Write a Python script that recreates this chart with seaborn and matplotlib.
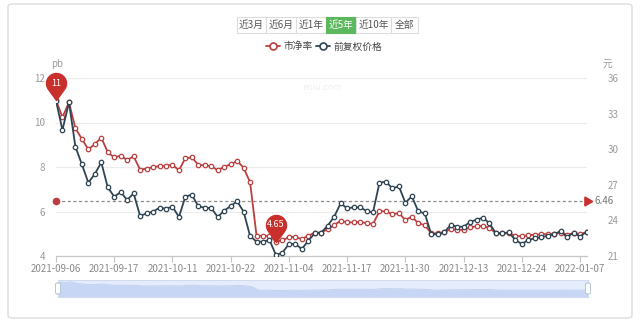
import numpy as np
import pandas as pd
import matplotlib
matplotlib.use('Agg')
import matplotlib.pyplot as plt
import seaborn as sns
from matplotlib.path import Path
from matplotlib.patches import FancyBboxPatch, Rectangle
from matplotlib.lines import Line2D

# ---------------- data ----------------
holidays = ['2021-09-20', '2021-09-21', '2021-10-01', '2021-10-04', '2021-10-05',
            '2021-10-06', '2021-10-07', '2022-01-03']
dates = [d.strftime('%Y-%m-%d') for d in pd.bdate_range('2021-09-06', '2022-01-10')
         if d.strftime('%Y-%m-%d') not in holidays]

pb = [11.00, 10.23, 10.91, 9.74, 9.26, 8.79, 9.03, 9.32, 8.66, 8.43,
      8.51, 8.31, 8.48, 7.88, 7.93, 7.99, 8.04, 8.06, 8.10, 7.85,
      8.40, 8.43, 8.10, 8.07, 8.04, 7.85, 8.01, 8.12, 8.27, 7.97,
      7.31, 4.91, 4.91, 4.91, 4.65, 4.70, 4.85, 4.85, 4.76, 4.91,
      5.05, 5.05, 5.21, 5.38, 5.59, 5.51, 5.51, 5.53, 5.48, 5.44,
      6.01, 6.01, 5.87, 5.93, 5.62, 5.77, 5.47, 5.39, 5.02, 5.02,
      5.06, 5.21, 5.18, 5.17, 5.29, 5.33, 5.35, 5.26, 5.02, 5.02,
      5.02, 4.91, 4.88, 4.93, 4.96, 4.97, 4.99, 5.00, 5.05, 4.96,
      5.02, 4.99, 5.06]

price = [34.09, 31.61, 33.95, 30.21, 28.72, 27.18, 27.91, 28.89, 26.79, 26.00,
         26.39, 25.72, 26.28, 24.37, 24.59, 24.73, 25.07, 24.99, 25.16, 24.29,
         26.00, 26.17, 25.18, 25.07, 25.04, 24.29, 24.82, 25.21, 25.61, 24.73,
         22.68, 22.21, 22.21, 22.35, 21.08, 21.28, 22.01, 22.01, 21.59, 22.29,
         22.91, 22.97, 23.56, 24.31, 25.44, 25.02, 25.10, 25.10, 24.79, 24.68,
         27.18, 27.26, 26.70, 26.87, 25.49, 26.03, 24.76, 24.59, 22.83, 22.83,
         22.99, 23.61, 23.47, 23.47, 23.86, 24.06, 24.23, 23.75, 22.91, 22.91,
         22.99, 22.35, 22.01, 22.35, 22.49, 22.57, 22.71, 22.83, 23.11, 22.57,
         22.97, 22.63, 23.05]

tick_labels = ['2021-09-06', '2021-09-17', '2021-10-11', '2021-10-22', '2021-11-04',
               '2021-11-17', '2021-11-30', '2021-12-13', '2021-12-24', '2022-01-07']
pb_ticks = [4, 6, 8, 10, 12]
price_ticks = [21, 24, 27, 30, 33, 36]
avg_pb = 6.46
buttons = ['近3月', '近6月', '近1年', '近5年', '近10年', '全部']
series_names = ['市净率', '前复权价格']

n = min(len(dates), len(pb), len(price))
dates = dates[:n]
df = pd.DataFrame({'idx': np.arange(n), 'date': dates, 'pb': pb[:n], 'price': price[:n]})

RED = '#bb3f3f'
PIN = '#c9302c'
DARK = '#2f4554'
W, H = 640, 324

sns.set_theme(style='white')
plt.rcParams['font.family'] = ['Noto Sans CJK SC', 'DejaVu Sans']

fig = plt.figure(figsize=(W / 100, H / 100), dpi=100)
fig.patch.set_facecolor('white')


def fx(px):
    return px / W


def fy(py):
    return 1 - py / H


# outer frame
frame = FancyBboxPatch((fx(8), fy(318)), fx(624), 314 / H,
                       boxstyle='round,pad=0,rounding_size=0.008',
                       transform=fig.transFigure, facecolor='none',
                       edgecolor='#dcdcdc', lw=1.0, zorder=0)
fig.patches.append(frame)

# main axes
L, R, T, B = 56, 586.5, 78, 256
ax = fig.add_axes([fx(L), fy(B), fx(R - L), (B - T) / H])
ax2 = ax.twinx()

sns.lineplot(data=df, x='idx', y='pb', ax=ax, color=RED, lw=1.3, marker='o',
             markersize=3.2, markerfacecolor='white', markeredgecolor=RED,
             markeredgewidth=0.9, zorder=3)
sns.lineplot(data=df, x='idx', y='price', ax=ax2, color=DARK, lw=1.3, marker='o',
             markersize=3.2, markerfacecolor='white', markeredgecolor=DARK,
             markeredgewidth=0.9, zorder=3)

ax.set_xlim(0, n - 1)
ax.set_ylim(4, 12)
ax2.set_ylim(21, 36)
ax.set_xlabel('')
ax.set_ylabel('')
ax2.set_ylabel('')

for a in (ax, ax2):
    for s in ('top', 'right', 'left', 'bottom'):
        a.spines[s].set_visible(False)
    a.patch.set_visible(False)
ax.spines['bottom'].set_visible(True)
ax.spines['bottom'].set_color('#c6c6c6')
ax.spines['bottom'].set_linewidth(0.9)

ax.set_yticks(pb_ticks)
ax.set_yticklabels([str(t) for t in pb_ticks])
ax2.set_yticks(price_ticks)
ax2.set_yticklabels([str(t) for t in price_ticks])
ax.tick_params(axis='y', length=0, pad=8, labelsize=7, labelcolor='#9a9a9a')
ax2.tick_params(axis='y', length=0, pad=15, labelsize=7, labelcolor='#9a9a9a')

tick_pos = [dates.index(t) for t in tick_labels if t in dates]
ax.set_xticks(tick_pos)
ax.set_xticklabels([dates[p] for p in tick_pos])
ax.tick_params(axis='x', length=4, width=0.8, color='#c6c6c6', pad=2,
               labelsize=7, labelcolor='#8a8a8a', direction='out', bottom=True)

for t in pb_ticks[1:]:
    ax.axhline(t, color='#ececec', lw=0.9, zorder=0)

# axis names
fig.text(fx(57), fy(64), 'pb', ha='center', va='center', fontsize=7, color='#9a9a9a')
fig.text(fx(607), fy(64), '元', ha='center', va='center', fontsize=7, color='#9a9a9a')

# watermark
fig.text(fx(322), fy(88), 'eniu.com', ha='center', va='center', fontsize=6.5,
         color='#f0f0f0', zorder=0)

# average mark line
ax.plot([0, n - 1], [avg_pb, avg_pb], ls=(0, (2.5, 2)), color='#8c8c8c', lw=0.9, zorder=4)
ax.plot([0], [avg_pb], 'o', color=RED, ms=4.5, zorder=5, clip_on=False)
ax.plot([n - 1], [avg_pb], marker=(3, 0, -90), color=PIN, ms=7.5, zorder=5, clip_on=False)
ax.annotate(f'{avg_pb:.2f}', xy=(n - 1, avg_pb), xytext=(5.5, 0), textcoords='offset points',
            ha='left', va='center', fontsize=7, color='#777777', annotation_clip=False)

# pin marker (tip at origin, head above)
r, d = 10.0, 17.0
beta = np.degrees(np.arccos(r / d))
angs = np.radians(np.linspace(-90 + beta, 270 - beta, 60))
verts = [(0, 0)] + [(r * np.cos(a), d + r * np.sin(a)) for a in angs] + [(0, 0)]
codes = [Path.MOVETO] + [Path.LINETO] * (len(verts) - 2) + [Path.CLOSEPOLY]
pin_path = Path(verts, codes)
pin_ms = (d + r) * 0.72 * 2  # points


def draw_pin(i, val, label):
    ax2.plot([i], [val], marker=pin_path, ms=pin_ms, color=PIN, mec=PIN,
             transform=ax.transData, zorder=10, clip_on=False, ls='none')
    ax2.annotate(label, xy=(i, val), xycoords=ax.transData, xytext=(0, d * 0.72),
                 textcoords='offset points', ha='center', va='center', fontsize=6.5,
                 color='white', zorder=11, annotation_clip=False)


imax = int(np.argmax(df['pb']))
imin = int(np.argmin(df['pb']))
draw_pin(imax, df['pb'][imax], f"{df['pb'][imax]:g}")
draw_pin(imin, df['pb'][imin], f"{df['pb'][imin]:.2f}")

# range buttons
bx = [237, 266, 296, 326, 356, 391, 418]
for k, lab in enumerate(buttons):
    x0, x1 = bx[k], bx[k + 1]
    active = lab == '近5年'
    rect = Rectangle((fx(x0), fy(33)), fx(x1 - x0), 16 / H, transform=fig.transFigure,
                     facecolor='#5cb85c' if active else 'white',
                     edgecolor='#5cb85c' if active else '#dddddd', lw=0.8)
    fig.patches.append(rect)
    fig.text(fx((x0 + x1) / 2), fy(25), lab, ha='center', va='center', fontsize=7,
             color='white' if active else '#555555')

# legend
for (sx, tx, col, name) in [(266, 284, RED, series_names[0]), (316, 334, DARK, series_names[1])]:
    fig.lines.append(Line2D([fx(sx), fx(sx + 14)], [fy(46), fy(46)], transform=fig.transFigure,
                            color=col, lw=1.3))
    fig.lines.append(Line2D([fx(sx + 7)], [fy(46)], transform=fig.transFigure, marker='o',
                            ms=5, mfc='white', mec=col, mew=1.2, ls='none'))
    fig.text(fx(tx), fy(46.5), name, ha='left', va='center', fontsize=7, color='#444444')

# data zoom slider
zx0, zx1, zy0, zy1 = 58, 588, 280, 297
zax = fig.add_axes([fx(zx0), fy(zy1), fx(zx1 - zx0), (zy1 - zy0) / H])
zax.set_xlim(0, n - 1)
zax.set_ylim(0, 12.2)
zax.fill_between(df['idx'], df['pb'], 0, color='#d4def3', lw=0)
zax.plot(df['idx'], df['pb'], color='#c4d2ee', lw=0.7)
zax.axvspan(0, n - 1, color='#87afff', alpha=0.16, lw=0)
zax.set_xticks([])
zax.set_yticks([])
for s in zax.spines.values():
    s.set_color('#d2dbee')
    s.set_linewidth(0.8)
zax.set_facecolor('#f7f9fd')
for hx in (zx0, zx1):
    h = FancyBboxPatch((fx(hx - 2.5), fy(294)), fx(5), 11 / H,
                       boxstyle='round,pad=0,rounding_size=0.004', transform=fig.transFigure,
                       facecolor='white', edgecolor='#b8c4d8', lw=0.7, zorder=5)
    fig.patches.append(h)

fig.savefig('out.png', dpi=100, facecolor='white')
